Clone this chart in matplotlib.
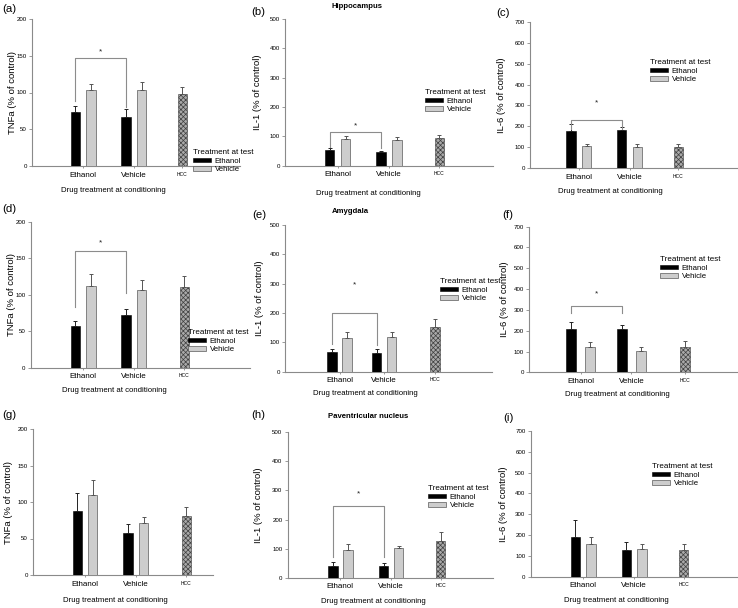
import matplotlib
matplotlib.use('Agg')
import matplotlib.pyplot as plt
import numpy as np

plt.rcParams['font.family'] = ['Liberation Sans', 'DejaVu Sans']
plt.rcParams['hatch.linewidth'] = 0.5

W, H = 738, 608
fig = plt.figure(figsize=(W / 100, H / 100), dpi=100)

# ---------------- data ----------------
conditions = ['Ethanol', 'Vehicle', 'HCC']
test_labels = ['Ethanol', 'Vehicle']
xlabel_text = 'Drug treatment at conditioning'
legend_title = 'Treatment at test'

panel_letters = ['(a)', '(b)', '(c)', '(d)', '(e)', '(f)', '(g)', '(h)', '(i)']
panel_titles = ['', 'Hippocampus', '', '', 'Amygdala', '', '', 'Paventricular nucleus', '']
ylabels = ['TNFa (% of control)', 'IL-1 (% of control)', 'IL-6 (% of control)'] * 3
ymax = [200, 500, 700] * 3
ystep = [50, 100, 100] * 3

# black bars: ethanol at test (conditioning: Ethanol, Vehicle)
eth_a = [74, 66];   eth_a_err = [8, 11]
eth_b = [52, 48];   eth_b_err = [7, 3]
eth_c = [180, 184]; eth_c_err = [31, 14]
eth_d = [57, 72];   eth_d_err = [7, 8]
eth_e = [66, 64];   eth_e_err = [10, 12]
eth_f = [210, 207]; eth_f_err = [30, 20]
eth_g = [88, 58];   eth_g_err = [24, 12]
eth_h = [41, 40];   eth_h_err = [12, 10]
eth_i = [191, 127]; eth_i_err = [81, 38]

# grey bars: vehicle at test
veh_a = [103, 104]; veh_a_err = [8, 10]
veh_b = [92, 86];   veh_b_err = [9, 12]
veh_c = [108, 103]; veh_c_err = [9, 14]
veh_d = [112, 106]; veh_d_err = [16, 14]
veh_e = [115, 118]; veh_e_err = [19, 16]
veh_f = [124, 101]; veh_f_err = [20, 19]
veh_g = [109, 71];  veh_g_err = [21, 8]
veh_h = [94, 103];  veh_h_err = [21, 7]
veh_i = [155, 133]; veh_i_err = [37, 24]

# home cage controls
hcc = [98, 95, 102, 110, 151, 124, 81, 127, 128]
hcc_err = [9, 8, 15, 15, 29, 28, 12, 31, 29]

eth_all = [eth_a, eth_b, eth_c, eth_d, eth_e, eth_f, eth_g, eth_h, eth_i]
eth_err_all = [eth_a_err, eth_b_err, eth_c_err, eth_d_err, eth_e_err, eth_f_err, eth_g_err, eth_h_err, eth_i_err]
veh_all = [veh_a, veh_b, veh_c, veh_d, veh_e, veh_f, veh_g, veh_h, veh_i]
veh_err_all = [veh_a_err, veh_b_err, veh_c_err, veh_d_err, veh_e_err, veh_f_err, veh_g_err, veh_h_err, veh_i_err]

# significance brackets: (bracket height, left leg end, right leg end, star height) or None
brackets = [(147, 89, 80, 155), (116, 65, 59, 135), (230, 190, 190, 312),
            (160, 83, 103, 171), (201, 95, 90, 295), (319, 284, 284, 375),
            None, (245, 72, 72, 287), None]

# ---------------- layout (pixels) ----------------
# axes: left, top(ymax), right, bottom(y=0)
ax_px = [(32, 19, 240, 166), (285.3, 19, 493, 165.7), (530.3, 21.7, 736.7, 168.3),
         (30.7, 221.7, 250, 367.7), (285, 225, 491.7, 371.7), (529.3, 226.7, 736.7, 372.3),
         (33.3, 429, 213.3, 575), (287.7, 432.3, 493, 577.7), (530.7, 431, 736.7, 576.7)]
# group centres (eth, veh) and hcc centre, px
grp_px = [(83.05, 133.75, 182.3), (337.7, 389, 439.3), (578.85, 629.5, 678.3),
          (83.15, 133.85, 184.3), (339.5, 384, 435), (580.5, 631.35, 685),
          (85, 135.8, 186.3), (340.25, 391, 440.7), (583.25, 634.3, 683.7)]
half_gap_px = [7.75, 8, 7.8, 7.85, 7.5, 9.5, 7.7, 7.5, 7.8]
bar_w_px = 9.5
ylab_off_px = [19.3, 27.6, 28.6, 19, 25, 24.3, 25, 29.4, 27.4]
xlab_px = [(113.8, 190.7), (368.3, 193), (610.5, 191.7), (114.5, 390), (365.8, 393.3),
           (617, 394), (115, 600), (373.3, 601.7), (616.2, 601)]
letter_px = [(2, 9), (251.7, 11.7), (496.7, 13), (2, 209), (252, 215), (502.7, 215),
             (2, 415), (251.7, 415), (503.3, 418)]
title_px = [None, (356.7, 6), None, None, (350, 211.7), None, None, (367.7, 416), None]
legend_px = [(193, 149), (425, 89), (650, 59), (188, 329), (440, 278), (660, 256),
             None, (428, 485), (652, 463)]

AXC = '#8a8a8a'

for k in range(9):
    L, T, R, B = ax_px[k]
    ax = fig.add_axes([L / W, 1 - B / H, (R - L) / W, (B - T) / H])
    ax.patch.set_alpha(0)
    e_px, v_px, h_px = grp_px[k]
    s = v_px - e_px
    d = half_gap_px[k] / s
    bw = bar_w_px / s
    xc = np.array([0.0, 1.0])
    xh = (h_px - e_px) / s

    ax.bar(xc - d, eth_all[k], bw, color='black', edgecolor='black', linewidth=0.4,
           yerr=[[0, 0], eth_err_all[k]], error_kw=dict(ecolor='#222222', elinewidth=0.7,
                                                      capsize=1.6, capthick=0.7),
           label=test_labels[0], zorder=3)
    ax.bar(xc + d, veh_all[k], bw, color='#cdcdcd', edgecolor='#5a5a5a', linewidth=0.5,
           yerr=[[0, 0], veh_err_all[k]], error_kw=dict(ecolor='#555555', elinewidth=0.7,
                                                      capsize=1.6, capthick=0.7),
           label=test_labels[1], zorder=3)
    ax.bar([xh], [hcc[k]], bw, facecolor='#a9a9a9', edgecolor='#404040', linewidth=0.4,
           hatch='xxxxxxx', yerr=[[0], [hcc_err[k]]],
           error_kw=dict(ecolor='#555555', elinewidth=0.7, capsize=1.6, capthick=0.7),
           zorder=3)

    ax.set_xlim((L - e_px) / s, (R - e_px) / s)
    ax.set_ylim(0, ymax[k])
    ax.set_yticks(np.arange(0, ymax[k] + 1, ystep[k]))
    ax.set_xticks([0, 1, xh])
    ax.set_xticklabels(conditions)
    for i, tl in enumerate(ax.get_xticklabels()):
        tl.set_fontsize(5.8 if i < 2 else 3.6)
    for tl in ax.get_yticklabels():
        tl.set_fontsize(4.4)
    ax.tick_params(axis='y', length=2.2, width=0.6, color=AXC, pad=1.6)
    ax.tick_params(axis='x', length=1.5, width=0.6, color=AXC, pad=2.6)
    for sp in ['top', 'right']:
        ax.spines[sp].set_visible(False)
    for sp in ['left', 'bottom']:
        ax.spines[sp].set_color(AXC)
        ax.spines[sp].set_linewidth(0.8)

    ax.set_ylabel(ylabels[k], fontsize=6.8)
    ax.yaxis.set_label_coords(-ylab_off_px[k] / (R - L), 0.5)
    ax.yaxis.label.set_va('center')
    ax.set_xlabel(xlabel_text, fontsize=5.6)
    xl, yl = xlab_px[k]
    ax.xaxis.set_label_coords((xl - L) / (R - L), -(yl - B) / (B - T))
    ax.xaxis.label.set_va('center')

    if brackets[k] is not None:
        by, le, re, sy = brackets[k]
        xe, xv = 0 - d, 1 - d
        ax.plot([xe, xe, xv, xv], [le, by, by, re], color='#8c8c8c', lw=0.8,
                zorder=4, clip_on=False)
        ax.text((xe + xv) / 2, sy, '*', ha='center', va='center', fontsize=6,
                color='#222222')

    lx, ly = letter_px[k]
    fig.text(lx / W, 1 - ly / H, panel_letters[k], fontsize=8.2, ha='left', va='center')
    if title_px[k] is not None:
        tx, ty = title_px[k]
        fig.text(tx / W, 1 - ty / H, panel_titles[k], fontsize=5.6, fontweight='bold',
                 ha='center', va='center')

    if legend_px[k] is not None:
        gx, gy = legend_px[k]
        leg = ax.legend(loc='upper left', bbox_to_anchor=(gx / W, 1 - gy / H),
                        bbox_transform=fig.transFigure, frameon=False,
                        title=legend_title, fontsize=5.6, title_fontsize=5.8,
                        handlelength=2.3, handleheight=0.55, handletextpad=0.5,
                        labelspacing=0.2, borderpad=0, borderaxespad=0)
        leg._legend_box.align = 'left'
        leg.set_zorder(10)

fig.savefig('out.png', dpi=100)
